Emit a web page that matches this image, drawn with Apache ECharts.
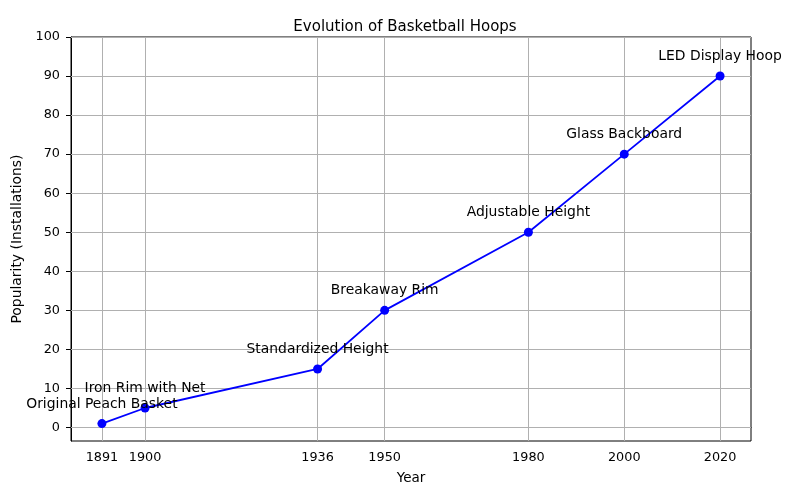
<!DOCTYPE html>
<html><head><meta charset="utf-8">
<script src="https://cdn.jsdelivr.net/npm/echarts@6/dist/echarts.min.js"></script>
<style>html,body{margin:0;padding:0;background:#fff}#c{width:800px;height:500px}</style>
</head><body><div id="c"></div>
<script>
const years = [1891, 1900, 1936, 1950, 1980, 2000, 2020];
const popularity = [1, 5, 15, 30, 50, 70, 90];
const innovations = ["Original Peach Basket", "Iron Rim with Net", "Standardized Height", "Breakaway Rim", "Adjustable Height", "Glass Backboard", "LED Display Hoop"];
const yTicks = [0, 10, 20, 30, 40, 50, 60, 70, 80, 90, 100];

const font = 'DejaVu Sans';
const fs = 12.8;
const chart = echarts.init(document.getElementById('c'));
const gridLine = {color: '#b0b0b0', width: 1, type: 'solid'};
chart.setOption({
  animation: false,
  title: {text: 'Evolution of Basketball Hoops', left: 400, top: 15, textAlign: 'center',
    textStyle: {fontFamily: font, fontSize: 15, fontWeight: 'normal', color: '#000'}},
  grid: {left: 71, right: 49, top: 37, bottom: 59, show: true, borderColor: '#000', borderWidth: 1, backgroundColor: 'transparent'},
  xAxis: {type: 'value', min: 1884.55, max: 2026.45,
    name: 'Year', nameLocation: 'middle', nameGap: 30,
    nameTextStyle: {fontFamily: font, fontSize: 13.5, color: '#000'},
    axisLine: {show: true, lineStyle: {color: '#000', width: 1}},
    axisTick: {show: true, customValues: years, length: 5, lineStyle: {color: '#000'}},
    axisLabel: {customValues: years, formatter: v => String(v), fontFamily: font, fontSize: fs, color: '#000', margin: 10},
    splitLine: {show: false}},
  yAxis: {type: 'value', min: -3.45, max: 100,
    name: 'Popularity (Installations)', nameLocation: 'middle', nameGap: 44, nameRotate: 90,
    nameTextStyle: {fontFamily: font, fontSize: 13.9, color: '#000'},
    axisLine: {show: true, lineStyle: {color: '#000', width: 1}},
    axisTick: {show: true, customValues: yTicks, length: 5, lineStyle: {color: '#000'}},
    axisLabel: {customValues: yTicks, formatter: v => String(v), fontFamily: font, fontSize: fs, color: '#000', margin: 11},
    splitLine: {show: false}},
  series: [
    {type: 'line', data: [], z: 1, silent: true,
      markLine: {silent: true, z: 1, symbol: 'none', label: {show: false}, lineStyle: gridLine, animation: false,
        data: years.map(v => ({xAxis: v})).concat(yTicks.map(v => ({yAxis: v})))}},
    {type: 'line', z: 10, data: years.map((y, i) => [y, popularity[i]]),
      lineStyle: {color: '#0000ff', width: 1.8},
      itemStyle: {color: '#0000ff'},
      symbol: 'circle', symbolSize: 9, showAllSymbol: true,
      label: {show: true, position: 'top', distance: 8,
        formatter: p => innovations[p.dataIndex],
        fontFamily: font, fontSize: 13.9, color: '#000'}}
  ]
});
</script></body></html>
